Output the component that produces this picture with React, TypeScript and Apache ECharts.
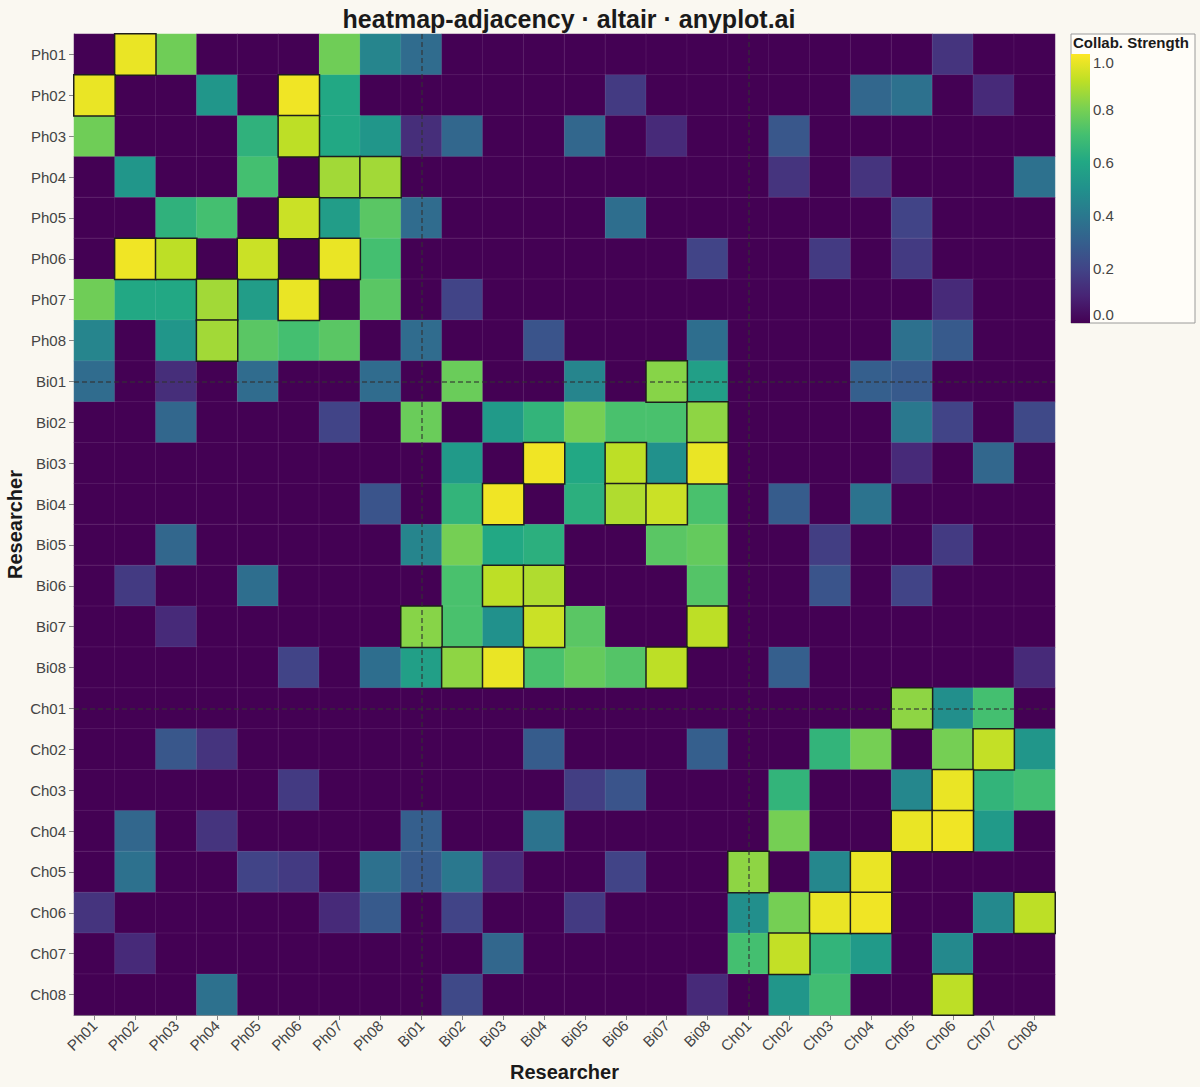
import React, { useEffect, useRef } from "react";
import * as echarts from "echarts";

const researchers = [
  "Ph01", "Ph02", "Ph03", "Ph04", "Ph05", "Ph06", "Ph07", "Ph08",
  "Bi01", "Bi02", "Bi03", "Bi04", "Bi05", "Bi06", "Bi07", "Bi08",
  "Ch01", "Ch02", "Ch03", "Ch04", "Ch05", "Ch06", "Ch07", "Ch08",
];

// Undirected collaboration links (upper triangle); missing pairs are 0
const physicsLinks: [string, string, number][] = [
  ["Ph01", "Ph02", 0.97], ["Ph01", "Ph03", 0.78], ["Ph01", "Ph07", 0.78], ["Ph01", "Ph08", 0.45],
  ["Ph02", "Ph04", 0.52], ["Ph02", "Ph06", 0.98], ["Ph02", "Ph07", 0.6],
  ["Ph03", "Ph05", 0.64], ["Ph03", "Ph06", 0.9], ["Ph03", "Ph07", 0.6], ["Ph03", "Ph08", 0.52],
  ["Ph04", "Ph05", 0.7], ["Ph04", "Ph07", 0.86], ["Ph04", "Ph08", 0.86],
  ["Ph05", "Ph06", 0.92], ["Ph05", "Ph07", 0.55], ["Ph05", "Ph08", 0.74],
  ["Ph06", "Ph07", 0.97], ["Ph06", "Ph08", 0.7],
  ["Ph07", "Ph08", 0.74],
];

const biologyLinks: [string, string, number][] = [
  ["Bi01", "Bi02", 0.77], ["Bi01", "Bi05", 0.45], ["Bi01", "Bi07", 0.82], ["Bi01", "Bi08", 0.56],
  ["Bi02", "Bi03", 0.54], ["Bi02", "Bi04", 0.65], ["Bi02", "Bi05", 0.79], ["Bi02", "Bi06", 0.71],
  ["Bi02", "Bi07", 0.71], ["Bi02", "Bi08", 0.83],
  ["Bi03", "Bi04", 0.98], ["Bi03", "Bi05", 0.6], ["Bi03", "Bi06", 0.9], ["Bi03", "Bi07", 0.5], ["Bi03", "Bi08", 0.97],
  ["Bi04", "Bi05", 0.63], ["Bi04", "Bi06", 0.88], ["Bi04", "Bi07", 0.92], ["Bi04", "Bi08", 0.71],
  ["Bi05", "Bi07", 0.74], ["Bi05", "Bi08", 0.76],
  ["Bi06", "Bi08", 0.73],
  ["Bi07", "Bi08", 0.9],
];

const chemistryLinks: [string, string, number][] = [
  ["Ch01", "Ch05", 0.83], ["Ch01", "Ch06", 0.49], ["Ch01", "Ch07", 0.7],
  ["Ch02", "Ch03", 0.65], ["Ch02", "Ch04", 0.79], ["Ch02", "Ch06", 0.79], ["Ch02", "Ch07", 0.91], ["Ch02", "Ch08", 0.52],
  ["Ch03", "Ch05", 0.46], ["Ch03", "Ch06", 0.97], ["Ch03", "Ch07", 0.65], ["Ch03", "Ch08", 0.69],
  ["Ch04", "Ch05", 0.97], ["Ch04", "Ch06", 0.98], ["Ch04", "Ch07", 0.54],
  ["Ch06", "Ch07", 0.47], ["Ch06", "Ch08", 0.9],
];

const crossLinks: [string, string, number][] = [
  ["Ph01", "Bi01", 0.35], ["Ph01", "Ch06", 0.15],
  ["Ph02", "Bi06", 0.17], ["Ph02", "Ch04", 0.33], ["Ph02", "Ch05", 0.37], ["Ph02", "Ch07", 0.12],
  ["Ph03", "Bi01", 0.13], ["Ph03", "Bi02", 0.33], ["Ph03", "Bi05", 0.33], ["Ph03", "Bi07", 0.12], ["Ph03", "Ch02", 0.27],
  ["Ph04", "Ch02", 0.15], ["Ph04", "Ch04", 0.15], ["Ph04", "Ch08", 0.37],
  ["Ph05", "Bi01", 0.35], ["Ph05", "Bi06", 0.36], ["Ph05", "Ch05", 0.2],
  ["Ph06", "Bi08", 0.2], ["Ph06", "Ch03", 0.17], ["Ph06", "Ch05", 0.17],
  ["Ph07", "Bi02", 0.2], ["Ph07", "Ch06", 0.12],
  ["Ph08", "Bi01", 0.35], ["Ph08", "Bi04", 0.26], ["Ph08", "Bi08", 0.36], ["Ph08", "Ch05", 0.37], ["Ph08", "Ch06", 0.28],
  ["Bi01", "Ch04", 0.3], ["Bi01", "Ch05", 0.28],
  ["Bi02", "Ch05", 0.4], ["Bi02", "Ch06", 0.2], ["Bi02", "Ch08", 0.22],
  ["Bi03", "Ch05", 0.12], ["Bi03", "Ch07", 0.33],
  ["Bi04", "Ch02", 0.29], ["Bi04", "Ch04", 0.38],
  ["Bi05", "Ch03", 0.18], ["Bi05", "Ch06", 0.17],
  ["Bi06", "Ch03", 0.26], ["Bi06", "Ch05", 0.2],
  ["Bi08", "Ch02", 0.3], ["Bi08", "Ch08", 0.12],
];

const groupStarts = ["Bi01", "Ch01"];
const legendTicks = [1.0, 0.8, 0.6, 0.4, 0.2, 0.0];
const viridis = [
  "#440154", "#482475", "#414487", "#355f8d", "#2a788e", "#21918c",
  "#22a884", "#44bf70", "#7ad151", "#bddf26", "#fde725",
];
const highlightThreshold = 0.8;

const FONT = "'Liberation Sans', Arial, Helvetica, sans-serif";

export default function App() {
  const ref = useRef<HTMLDivElement>(null);

  useEffect(() => {
    if (!ref.current) return;
    const chart = echarts.init(ref.current, null, { renderer: "svg" });

    const weight = new Map<string, number>();
    for (const [a, b, v] of [...physicsLinks, ...biologyLinks, ...chemistryLinks, ...crossLinks]) {
      weight.set(a + "|" + b, v);
      weight.set(b + "|" + a, v);
    }
    const cells: any[] = [];
    researchers.forEach((row, yi) => {
      researchers.forEach((col, xi) => {
        const v = weight.get(row + "|" + col) ?? 0;
        const strong = v >= highlightThreshold;
        cells.push({
          value: [xi, yi, v],
          itemStyle: strong
            ? { borderColor: "#1e1e1e", borderWidth: 1.5 }
            : { borderColor: "rgba(255,255,255,0.08)", borderWidth: 1 },
        });
      });
    });
    cells.sort((a, b) => (a.value[2] >= highlightThreshold ? 1 : 0) - (b.value[2] >= highlightThreshold ? 1 : 0));

    // Legend geometry
    const lgX = 1071, lgY = 34, lgW = 124, lgH = 289;
    const barTop = 54, barBottom = lgY + lgH, barW = 19;
    const tickY = (v: number) => Math.min(314, Math.max(62, 321 - v * 265));

    const gradient = new echarts.graphic.LinearGradient(
      0, 0, 0, 1,
      viridis.slice().reverse().map((c, i) => ({ offset: i / (viridis.length - 1), color: c }))
    );

    const legendGraphics: any[] = [
      {
        type: "rect",
        shape: { x: lgX, y: lgY, width: lgW, height: lgH },
        style: { fill: "#fffdf8", stroke: "#9a9a9a", lineWidth: 1 },
        z: 10,
      },
      {
        type: "rect",
        shape: { x: lgX, y: barTop, width: barW, height: barBottom - barTop },
        style: { fill: gradient },
        z: 11,
      },
      {
        type: "text",
        x: lgX + 2, y: lgY + 1,
        style: {
          text: "Collab. Strength", fill: "#1a1a1a", font: `bold 15px ${FONT}`,
          textAlign: "left", textVerticalAlign: "top",
        },
        z: 12,
      },
      ...legendTicks.map((t) => ({
        type: "text",
        x: lgX + barW + 3, y: tickY(t),
        style: {
          text: t.toFixed(1), fill: "#444444", font: `15px ${FONT}`,
          textAlign: "left", textVerticalAlign: "middle",
        },
        z: 12,
      })),
    ];

    chart.setOption({
      animation: false,
      backgroundColor: "#faf8f1",
      title: {
        text: "heatmap-adjacency · altair · anyplot.ai",
        left: 564,
        top: 1,
        textAlign: "center",
        textStyle: { fontFamily: FONT, fontSize: 25, fontWeight: "bold", color: "#1a1a1a" },
      },
      grid: {
        left: 74, top: 34, width: 981, height: 981,
        containLabel: false, outerBoundsMode: "none",
      },
      xAxis: {
        type: "category",
        data: researchers,
        name: "Researcher",
        nameLocation: "middle",
        nameGap: 47,
        nameMoveOverlap: false,
        nameTextStyle: { fontFamily: FONT, fontSize: 20, fontWeight: "bold", color: "#1a1a1a" },
        axisLine: { show: true, lineStyle: { color: "#888888", width: 1 } },
        axisTick: { show: true, alignWithLabel: true, length: 5, lineStyle: { color: "#888888" } },
        axisLabel: { rotate: 45, fontFamily: FONT, fontSize: 15, color: "#444444", margin: 8, interval: 0 },
        splitLine: { show: false },
      },
      yAxis: {
        type: "category",
        data: researchers,
        inverse: true,
        name: "Researcher",
        nameLocation: "middle",
        nameGap: 49,
        nameRotate: 90,
        nameMoveOverlap: false,
        nameTextStyle: { fontFamily: FONT, fontSize: 20, fontWeight: "bold", color: "#1a1a1a" },
        axisLine: { show: true, lineStyle: { color: "#888888", width: 1 } },
        axisTick: { show: true, alignWithLabel: true, length: 5, lineStyle: { color: "#888888" } },
        axisLabel: { fontFamily: FONT, fontSize: 15, color: "#444444", margin: 8, interval: 0 },
        splitLine: { show: false },
      },
      visualMap: {
        show: false,
        type: "continuous",
        min: 0,
        max: 1,
        dimension: 2,
        inRange: { color: viridis },
      },
      series: [
        {
          type: "heatmap",
          data: cells,
          emphasis: { disabled: true },
          markLine: {
            silent: true,
            symbol: ["none", "none"],
            label: { show: false },
            lineStyle: { color: "#333333", type: [5, 3], width: 1.5, opacity: 0.75 },
            data: [
              ...groupStarts.map((g) => ({ xAxis: g })),
              ...groupStarts.map((g) => ({ yAxis: g })),
            ],
          },
        },
      ],
      graphic: legendGraphics,
    });

    return () => chart.dispose();
  }, []);

  return (
    <div
      ref={ref}
      style={{ position: "fixed", left: 0, top: 0, width: 1200, height: 1087 }}
    />
  );
}
